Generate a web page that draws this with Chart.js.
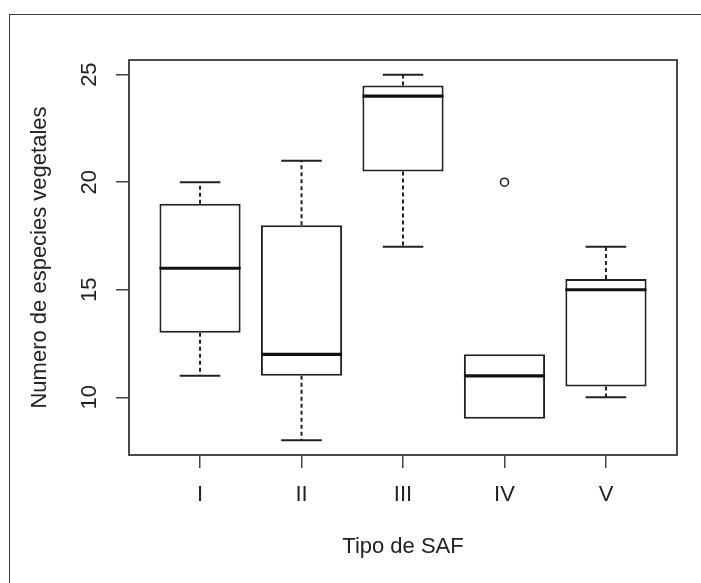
<!DOCTYPE html>
<html><head><meta charset="utf-8">
<script src="https://cdn.jsdelivr.net/npm/chart.js@4"></script>
<style>
html,body{margin:0;padding:0;background:#fff;}
#wrap{position:relative;width:701px;height:583px;overflow:hidden;}
#frame{position:absolute;left:9px;top:14px;width:1000px;height:1000px;border-top:1px solid #3c3c3c;border-left:1px solid #3c3c3c;pointer-events:none;}
canvas{position:absolute;left:0;top:0;}
</style></head><body>
<div id="wrap"><canvas id="c" width="701" height="583"></canvas><div id="frame"></div></div>
<script>
const categories = ['I', 'II', 'III', 'IV', 'V'];
const whiskerLow = [11, 8, 17, 9, 10];
const quartile1 = [13, 11, 20.5, 9, 10.5];
const medians = [16, 12, 24, 11, 15];
const quartile3 = [19, 18, 24.5, 12, 15.5];
const whiskerHigh = [20, 21, 25, 12, 17];
const outlierGroups = ['IV'];
const outlierValues = [20];
const yTicks = [10, 15, 20, 25];
const yLimits = [7.32, 25.68];
const xLimits = [0.3, 5.7];
const xTitle = 'Tipo de SAF';
const yTitle = 'Numero de especies vegetales';

const FONT = 'Liberation Sans, Arial, sans-serif';
const INK = '#222';

const boxParts = {
  id: 'boxParts',
  afterDatasetsDraw(chart) {
    const {ctx, chartArea: a, scales: {x, y}} = chart;
    const half = x.getPixelForValue(1.4) - x.getPixelForValue(1);
    const cap = half / 2;
    ctx.save();
    ctx.strokeStyle = INK;
    categories.forEach((c, i) => {
      const px = x.getPixelForValue(i + 1);
      // whiskers (dashed) and staples
      ctx.lineWidth = 2;
      ctx.setLineDash([4, 3]);
      ctx.beginPath();
      if (whiskerHigh[i] > quartile3[i]) {
        ctx.moveTo(px, y.getPixelForValue(quartile3[i]));
        ctx.lineTo(px, y.getPixelForValue(whiskerHigh[i]));
      }
      if (whiskerLow[i] < quartile1[i]) {
        ctx.moveTo(px, y.getPixelForValue(quartile1[i]));
        ctx.lineTo(px, y.getPixelForValue(whiskerLow[i]));
      }
      ctx.stroke();
      ctx.setLineDash([]);
      ctx.beginPath();
      if (whiskerHigh[i] > quartile3[i]) {
        const py = y.getPixelForValue(whiskerHigh[i]);
        ctx.moveTo(px - cap, py); ctx.lineTo(px + cap, py);
      }
      if (whiskerLow[i] < quartile1[i]) {
        const py = y.getPixelForValue(whiskerLow[i]);
        ctx.moveTo(px - cap, py); ctx.lineTo(px + cap, py);
      }
      ctx.stroke();
      // median
      ctx.lineWidth = 3.2;
      ctx.strokeStyle = '#111';
      ctx.beginPath();
      const my = y.getPixelForValue(medians[i]);
      ctx.moveTo(px - half, my);
      ctx.lineTo(px + half, my);
      ctx.stroke();
      ctx.strokeStyle = INK;
    });
    // plot frame
    ctx.strokeStyle = '#4a4a4a';
    ctx.lineWidth = 2;
    ctx.strokeRect(a.left, a.top, a.right - a.left, a.bottom - a.top);
    ctx.restore();
  }
};

new Chart(document.getElementById('c'), {
  type: 'bar',
  data: {
    datasets: [
      {
        type: 'bar',
        data: categories.map((c, i) => ({x: i + 1, y: [quartile1[i], quartile3[i]]})),
        backgroundColor: '#ffffff',
        borderColor: INK,
        borderWidth: 2,
        borderSkipped: false,
        barPercentage: 0.8,
        categoryPercentage: 1.0
      },
      {
        type: 'line',
        showLine: false,
        data: outlierGroups.map((g, i) => ({x: categories.indexOf(g) + 1, y: outlierValues[i]})),
        pointStyle: 'circle',
        pointRadius: 4,
        pointBorderWidth: 1.6,
        pointBorderColor: INK,
        pointBackgroundColor: '#ffffff'
      }
    ]
  },
  options: {
    responsive: false,
    devicePixelRatio: 1,
    animation: false,
    layout: {padding: {left: 10, top: 60, right: 24, bottom: 0}},
    plugins: {legend: {display: false}, tooltip: {enabled: false}},
    scales: {
      x: {
        type: 'linear',
        position: 'bottom',
        min: xLimits[0],
        max: xLimits[1],
        offset: false,
        afterBuildTicks: s => { s.ticks = categories.map((c, i) => ({value: i + 1})); },
        afterFit: s => { s.height = 128; },
        grid: {display: true, offset: false, drawOnChartArea: false, drawTicks: true, tickLength: 13, color: '#444', lineWidth: 1.5},
        border: {display: false},
        ticks: {
          autoSkip: false, maxRotation: 0, minRotation: 0, padding: 14,
          color: INK, font: {family: FONT, size: 22},
          callback: v => categories[Math.round(v) - 1]
        },
        title: {display: true, text: xTitle, color: INK, font: {family: FONT, size: 22}, padding: {top: 0, bottom: 23}}
      },
      y: {
        type: 'linear',
        position: 'left',
        min: yLimits[0],
        max: yLimits[1],
        afterBuildTicks: s => { s.ticks = yTicks.map(v => ({value: v})); },
        afterFit: s => { s.width = 119; },
        grid: {display: true, drawOnChartArea: false, drawTicks: true, tickLength: 13, color: '#444', lineWidth: 1.5},
        border: {display: false},
        ticks: {
          minRotation: 90, maxRotation: 90, crossAlign: 'center', padding: 14,
          color: INK, font: {family: FONT, size: 22}
        },
        title: {display: true, text: yTitle, color: INK, font: {family: FONT, size: 22}, padding: {top: 17, bottom: 0}}
      }
    }
  },
  plugins: [boxParts]
});
</script>
</body></html>
